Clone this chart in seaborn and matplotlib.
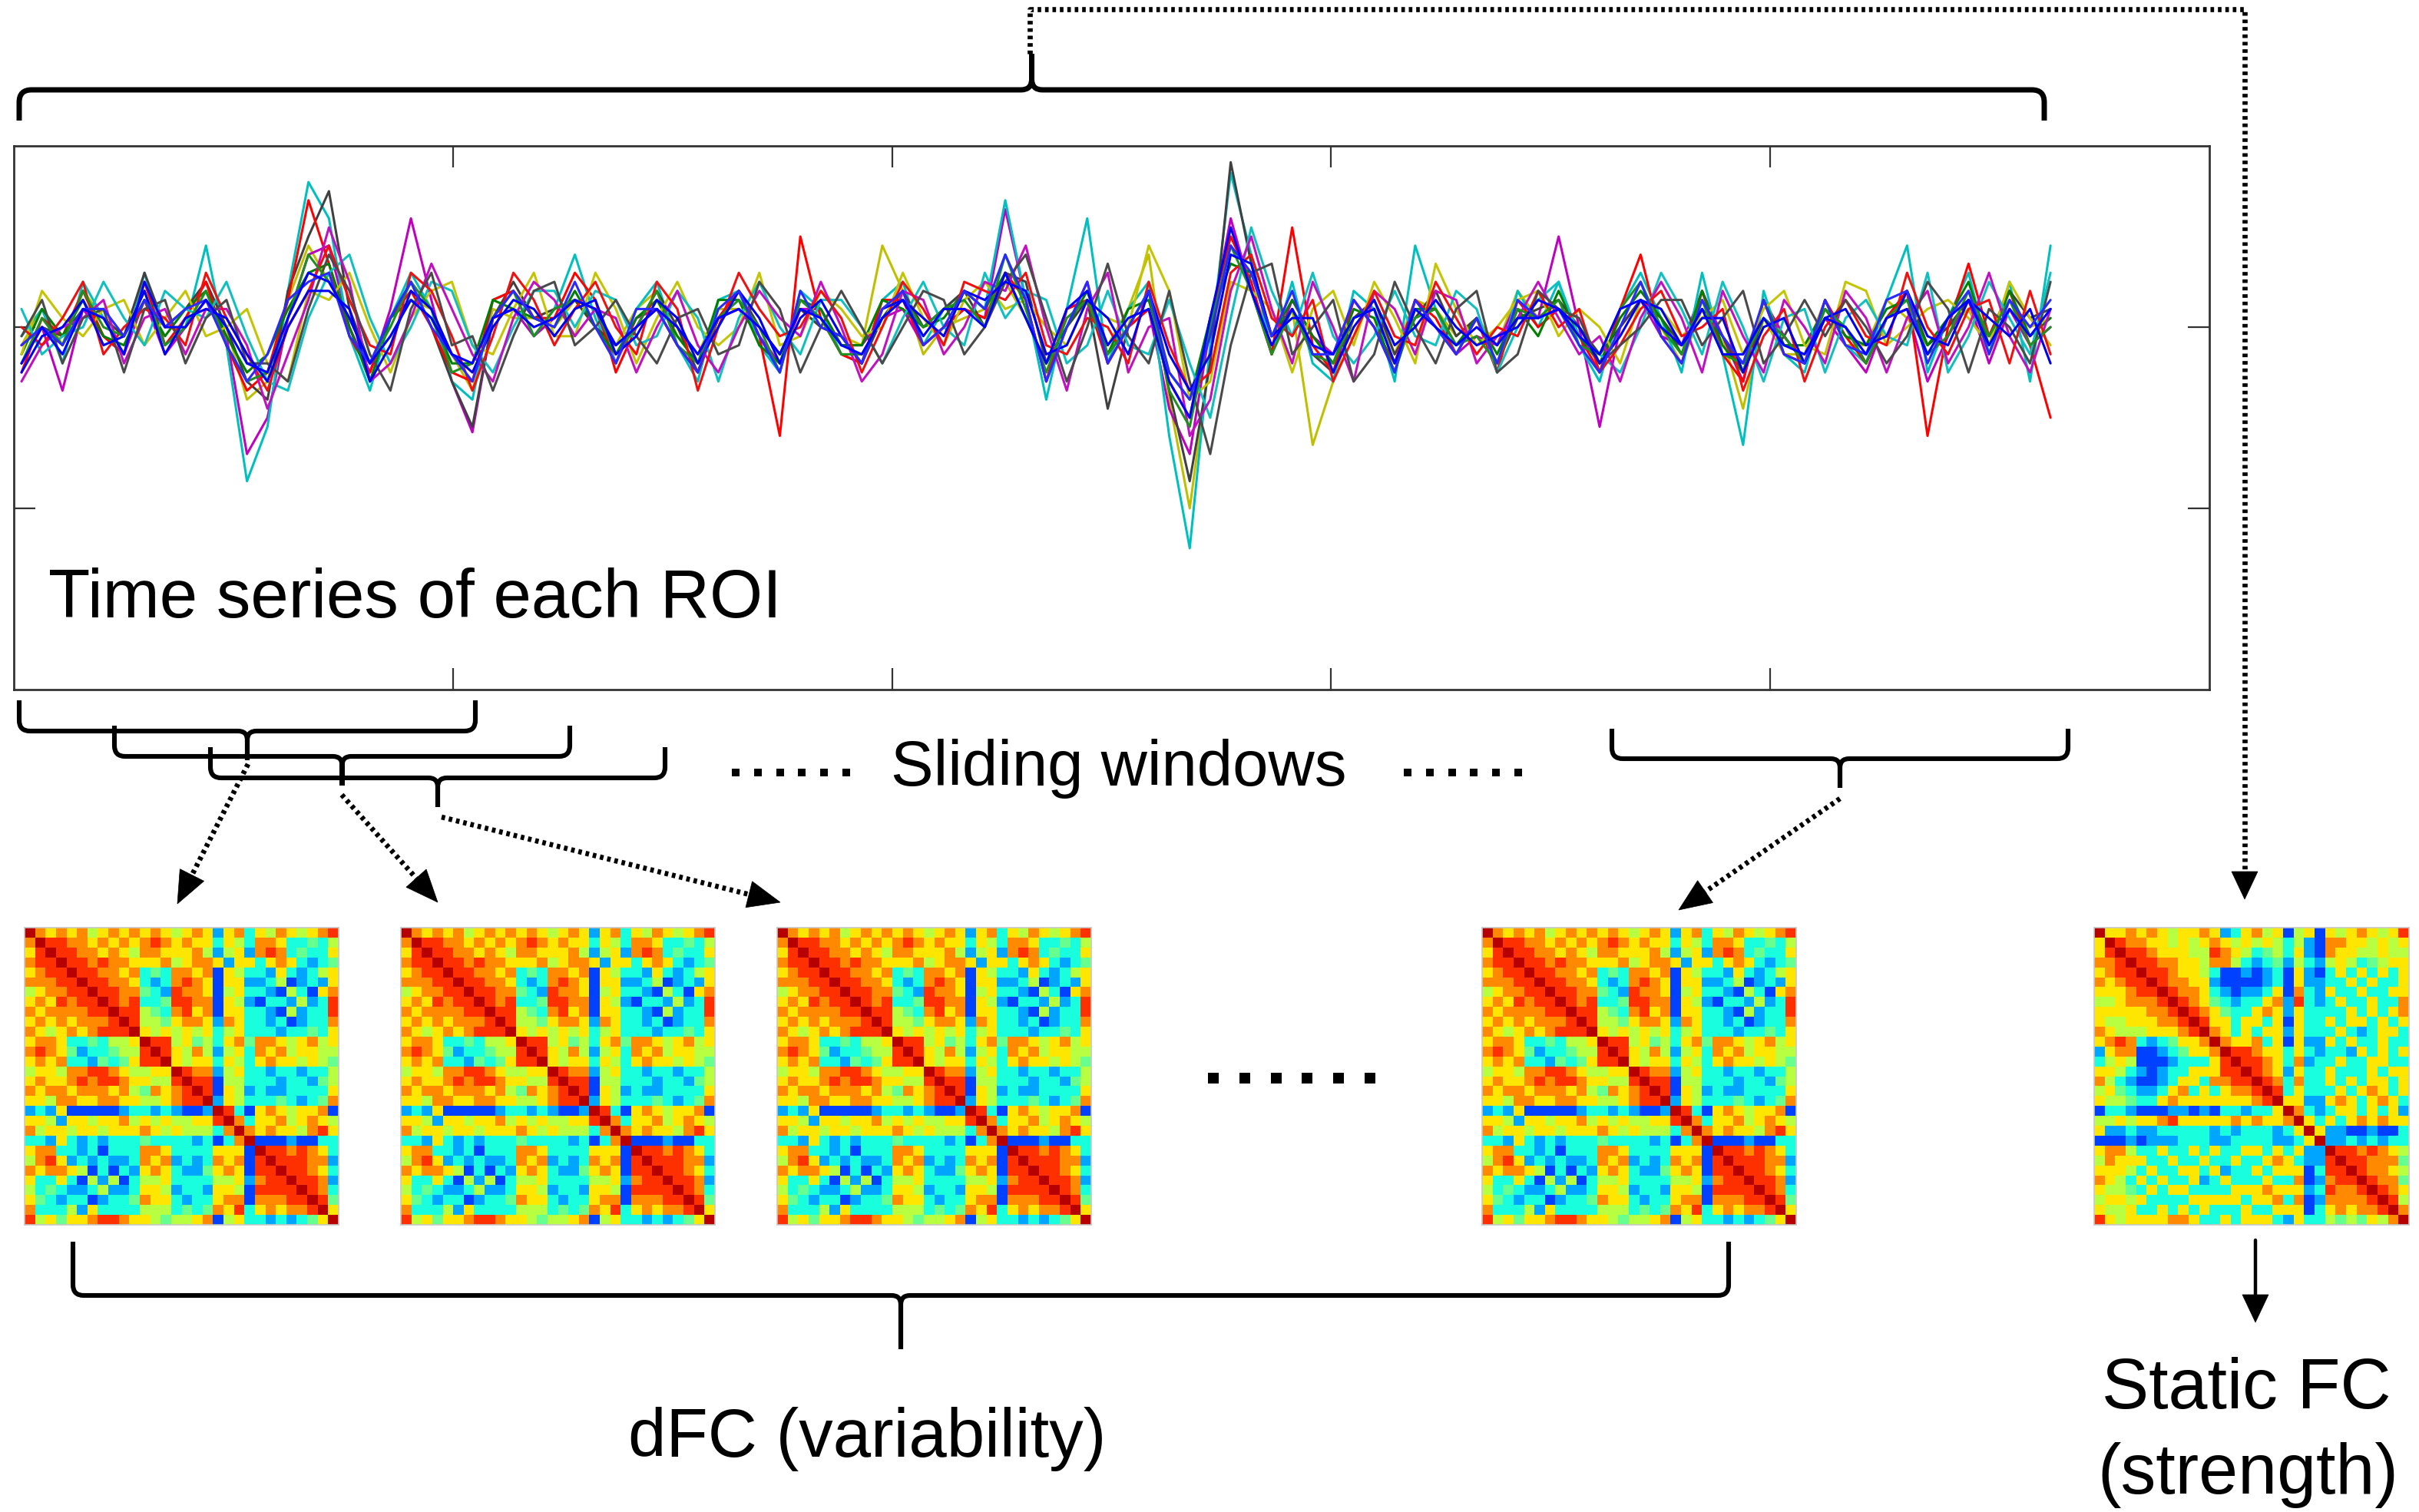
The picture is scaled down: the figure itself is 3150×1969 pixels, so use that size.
import numpy as np
import pandas as pd
import matplotlib
matplotlib.use("Agg")
import matplotlib.pyplot as plt
import seaborn as sns
from matplotlib.path import Path
from matplotlib.patches import PathPatch, Polygon

# ---------------- data ----------------
roi_names = ["ROI_y", "ROI_m", "ROI_c", "ROI_k", "ROI_r", "ROI_g", "ROI_y2", "ROI_c2",
             "ROI_m2", "ROI_r2", "ROI_k2", "ROI_g2", "ROI_b3", "ROI_b2", "ROI_b"]
roi_colors = ["#bfbf00", "#bf00bf", "#00bfbf", "#404040", "#ff0000", "#008000", "#c4c400",
              "#10c0c0", "#c010c0", "#f01010", "#4a4a4a", "#1f8f1f", "#0000ee", "#2a2aff", "#0000ff"]

# signal values in units of 0.01
ts_yellow = [-10, 10, -10, 20, 5, -5, 15, 0, 0, 15,
             0, -40, -30, 15, 45, 25, 5, -20, -5, 15,
             10, -15, -35, 10, 5, 5, 0, 15, 0, -10,
             10, 20, -5, -15, 10, 10, 0, -15, 10, 0,
             -5, -10, 45, 20, -15, 0, 5, 10, 25, 5,
             -20, 10, 15, -10, 10, 40, -40, -100, -15, 55,
             20, -5, 10, -65, -30, 5, 10, -15, 15, 10,
             -5, 5, -10, 20, 5, 10, 0, -15, 0, 15,
             0, -20, 10, -5, -45, 5, -15, -15, 15, -10,
             -10, 15, 5, -10, 0, 10, -15, 10, 0, 5]
ts_magenta = [-10, 0, -35, 10, -5, -15, 15, -15, 0, 15,
              -5, -70, -50, 5, 40, 45, 0, -25, 10, 60,
              15, -30, -58, 5, 10, -5, 5, 15, 10, -20,
              5, 10, -10, -25, 5, 10, -5, -20, 10, 10,
              -10, -10, 5, 10, -10, 0, 10, 5, 65, 15,
              -30, 0, 25, -20, 0, 10, -45, -70, 0, 60,
              20, -15, 15, -5, -15, 15, 0, -25, 15, 0,
              -15, -5, -10, 15, 5, 50, 0, -55, 0, 15,
              -5, -10, 20, -5, -30, 15, -5, -20, 5, -10,
              -25, 5, 10, -30, -5, 15, -20, 10, -10, 0]
ts_cyan = [-5, 10, -20, 25, 5, -15, 30, -10, 0, 45,
           -10, -85, -55, 20, 80, 60, -5, -35, 5, 30,
           10, -30, -40, 15, 20, -5, 10, 40, 5, -20,
           10, 25, -10, -30, 15, 20, -10, -25, 20, 10,
           -15, -20, 15, 25, -10, 10, 20, 10, 70, 15,
           -40, 10, 60, -20, 10, 25, -60, -122, -10, 85,
           40, -15, 25, -20, -30, 20, 10, -30, 45, 10,
           -15, 5, -25, 20, 0, 25, -10, -30, 10, 30,
           5, -25, 30, -15, -65, 20, -15, -25, 15, -10,
           -20, 15, 45, -25, 5, 30, -15, 25, -30, 45]
ts_gray = [-20, 0, -5, 10, 5, -5, 30, 0, 10, 25,
           0, -30, -40, 20, 50, 75, 10, -20, 5, 25,
           0, -30, -55, 5, 25, 5, 10, 15, 0, -10,
           0, 20, 0, -25, 5, 20, 0, -15, 10, 0,
           -5, -20, 5, 20, 0, 10, 20, 0, 30, 25,
           -20, 0, 15, -45, 0, 20, -35, -85, -20, 91,
           35, -5, 10, -15, -25, 5, 15, -15, 5, 20,
           -5, 5, -20, 5, 10, 15, 0, -15, 0, 15,
           5, -10, 10, -5, -25, 5, -5, -20, 5, 0,
           -20, 5, 20, -10, 0, 15, -5, 20, 5, 10]
ts_red = [-25, 5, -5, 20, -5, -15, 25, -10, 5, 25,
          -10, -35, -25, 15, 70, 35, -5, -25, 5, 20,
          0, -25, -30, 15, 20, 5, 5, 30, 15, -25,
          0, 10, -10, -25, 5, 20, -5, -60, 50, 5,
          -15, -20, 15, 15, -10, 0, 10, 5, 30, 15,
          -30, 10, 15, -20, 0, 10, -30, -50, 5, 50,
          25, -15, 55, -10, -25, 15, 0, -20, 15, 5,
          -15, 5, -25, 15, 0, 10, -5, -25, 10, 40,
          -5, -20, 20, -15, -30, 15, -15, -20, 15, -5,
          -20, 5, 20, -60, 0, 35, -5, 20, -10, -50]
ts_green = [-15, 10, -5, 15, -5, -10, 15, -5, 10, 20,
            -5, -25, -15, 10, 30, 35, 0, -30, 5, 15,
            5, -20, -20, 15, 10, 5, 0, 20, 0, -15,
            5, 15, -5, -20, 15, 15, -10, -20, 15, 10,
            -10, -10, 15, 10, 0, 5, 20, 10, 30, 5,
            -20, 0, 20, -15, 10, 15, -25, -40, 5, 35,
            30, -5, 15, -5, -20, 10, 5, -25, 10, 10,
            -10, 5, -15, 10, -5, 20, -5, -20, 5, 20,
            5, -15, 20, -10, -25, 15, -10, -10, 10, -5,
            -10, 10, 15, -10, 5, 25, -10, 20, -5, 5]
ts_yellow2 = [-15, 20, 5, -5, 10, 15, -10, 5, 20, -5,
              0, 10, -20, -30, 20, 15, 30, 0, -25, 5,
              20, 25, -10, -15, 10, 30, -5, -5, 30, 10,
              -20, 5, 25, 0, -10, 0, 30, -10, -5, 20,
              10, -5, 0, 30, 5, -10, 15, 25, 10, 15,
              0, -10, 15, 5, 0, 45, 20, -40, -30, 25,
              20, 10, -25, 10, 20, -10, 25, 5, -20, 35,
              10, -10, 0, 15, 20, -5, 10, 0, -20, 15,
              10, -5, 5, 15, -15, 10, 20, -10, -15, 25,
              20, -10, 0, 10, 15, 5, -10, 25, 5, -10]
ts_cyan2 = [10, -15, -5, 0, 25, 5, -10, 20, 10, 5,
            25, -5, -30, -35, 5, 30, 40, 5, -20, 0,
            25, 20, -10, -25, 0, 20, 20, 0, 20, 15,
            -10, -5, 20, 5, -30, 5, 25, 0, -15, 15,
            15, 0, -20, 5, 25, 0, -10, 30, 5, 20,
            15, -20, -10, 20, -10, -15, 15, -20, -50, 5,
            55, 20, -5, 30, -5, -20, -5, 20, -5, -10,
            20, 10, -25, 0, 15, 25, -5, -15, -25, 0,
            30, 10, -15, 25, 0, -30, 5, 10, -25, 5,
            15, -5, -10, 30, -25, -5, 25, 5, -15, 30]
ts_magenta2 = [-30, -10, 0, 5, 15, -20, 5, 10, -15, 10,
               10, -10, -45, -15, 15, 55, 25, -30, -20, 5,
               35, 10, -15, -30, 5, 25, 15, -5, 10, 5,
               -25, 0, 20, -10, -25, 0, 20, 5, -5, 25,
               0, -30, -15, 20, 15, -15, 0, 25, 20, 45,
               0, -35, 10, 30, -25, 0, 5, -60, -40, 20,
               50, 10, -20, 25, 0, -30, 20, 10, -15, 20,
               15, -20, -5, 5, 25, 5, -15, -5, -30, 5,
               25, 5, -25, 20, -5, -25, 15, 0, -20, 20,
               5, -25, 5, 20, -20, 0, 30, -5, -25, 10]
ts_red2 = [0, -10, 5, 25, -15, 0, 10, 5, -10, 30,
           5, -15, -35, 0, 20, 45, 15, -10, -15, 30,
           20, -5, -35, -5, 30, 15, -10, 10, 25, 0,
           -15, 25, 10, -35, 0, 30, 10, -5, 0, 20,
           5, -25, 0, 25, 10, -10, 25, 20, 15, 30,
           -10, -15, 5, 0, -20, 25, -10, -35, -25, 30,
           40, 5, -5, 15, -30, -5, 20, -5, -10, 25,
           5, -15, 0, -5, 20, 0, 10, -25, -10, 10,
           20, -5, 0, 10, -35, -5, 10, -30, 0, 15,
           -5, -10, 30, 0, -15, 10, 15, -20, 20, -15]
ts_gray2 = [-5, 15, -20, 5, 10, -25, 10, 15, -20, 5,
            15, -20, -20, -30, 10, 40, 20, -15, -35, 10,
            30, -10, -5, -35, -5, 20, 25, -10, 0, 15,
            -5, -20, 5, 10, -15, -10, 25, 10, -25, 0,
            20, 0, -20, 0, 20, 15, -15, 0, 25, 40,
            5, -30, 0, 35, -5, -20, 20, -30, -70, -10,
            30, 35, -15, 0, 15, -30, -15, 25, 0, -20,
            10, 20, -25, -15, 20, 10, 5, -20, -10, 0,
            15, 15, -10, 5, 20, -20, -5, 15, -5, 15,
            0, -20, -5, 25, 10, -25, 10, 0, -20, 25]
ts_green2 = [-20, 5, -10, 20, 0, -5, 20, -10, 0, 20,
             -10, -30, -25, 5, 40, 25, 5, -20, 0, 25,
             10, -25, -20, 5, 20, -5, 10, 15, 10, -15,
             0, 20, -10, -20, 5, 15, 0, -25, 15, 5,
             -15, -15, 5, 15, 0, 10, 15, 0, 40, 10,
             -25, 5, 15, -15, 0, 20, -35, -55, 0, 45,
             20, -15, 10, -15, -20, 5, 10, -20, 5, 10,
             -10, -5, -20, 10, 5, 15, -10, -15, 10, 25,
             0, -15, 15, -15, -20, 5, -5, -20, 10, 0,
             -20, 5, 15, -15, -5, 20, -5, 15, -10, 0]
ts_blue3 = [-25, -5, 0, 15, -10, -5, 20, -15, 5, 10,
            5, -15, -30, 0, 20, 20, 10, -30, -10, 20,
            10, -15, -25, 0, 15, 10, -5, 10, 15, -15,
            -5, 15, 5, -20, 0, 20, 5, -20, 5, 15,
            -5, -20, 10, 15, 5, -5, 20, 15, 25, 20,
            -15, -10, 15, 5, -15, 20, -15, -35, -15, 40,
            35, -5, 5, 5, -25, 0, 15, -10, 0, 15,
            0, -10, -5, 0, 15, 10, 0, -20, -5, 15,
            10, -10, 5, 5, -25, 0, 5, -20, 5, 10,
            -10, -5, 20, -5, -10, 15, 5, -5, 10, -20]
ts_blue2 = [-10, 0, -10, 10, 10, -5, 15, 0, 10, 15,
            -10, -30, -15, 15, 25, 30, -5, -20, 5, 25,
            0, -15, -30, 5, 20, 5, 0, 25, 0, -20,
            10, 10, -10, -25, 10, 20, -5, -25, 20, 0,
            -5, -20, 10, 20, -10, 0, 20, 10, 40, 15,
            -30, 0, 25, -20, 0, 20, -25, -40, -5, 45,
            30, -5, 20, -15, -15, 15, 0, -25, 15, 0,
            -15, 5, -20, 15, 5, 10, -10, -25, 0, 25,
            -5, -20, 15, -5, -20, 15, -15, -20, 15, -10,
            -15, 15, 20, -20, 5, 20, -15, 15, 0, 15]
ts_blue = [-20, 0, -15, 10, 5, -15, 25, 0, 0, 15,
           0, -20, -25, 5, 30, 25, 5, -20, -5, 15,
           5, -15, -20, 5, 10, 0, 5, 15, 10, -10,
           0, 10, 0, -15, 5, 10, 0, -15, 10, 5,
           -10, -15, 5, 15, -5, 10, 10, 0, 30, 5,
           -20, 10, 20, -10, 5, 10, -30, -50, 5, 55,
           20, -10, 10, -10, -15, 5, 10, -20, 10, 0,
           -10, 0, -10, 5, 5, 10, -5, -15, 10, 15,
           0, -10, 10, -15, -15, 5, -10, -15, 5, 0,
           -15, 5, 10, -15, 5, 15, -10, 10, -5, 10]
roi_series = [ts_yellow, ts_magenta, ts_cyan, ts_gray, ts_red, ts_green, ts_yellow2,
              ts_cyan2, ts_magenta2, ts_red2, ts_gray2, ts_green2, ts_blue3, ts_blue2, ts_blue]

# correlation matrices: upper triangle, row i starts at the diagonal (digit level 0..9)
dfc_rows = [
    "976767567676765676267365765678",
    "98877676767876766365377633435",
    "9887767657766675256278734336",
    "988787766675677626636763234 5".replace(" ", ""),
    "98877673437767165332632356",
    "9887763237876166223512326",
    "988774328776156332153167",
    "98783348877165213325238",
    "9885437867166332152338",
    "985546776276332312337",
    "96565656356333233436",
    "9885645367477656756",
    "986575256376756655",
    "96566365367665654",
    "9877256332332335",
    "988155333233245",
    "98165232233336",
    "9265333432347",
    "983167656671",
    "97366756765",
    "9767665786",
    "911121133",
    "98878763",
    "9888772",
    "988763",
    "98872",
    "9873",
    "984",
    "96",
    "9",
]
static_rows = [
    "966767656676236756156165676568",
    "98776656567656565352177665656",
    "9887666558765345362176655655",
    "988776657753234253256534566",
    "98876653112123162136363636",
    "9877662111123162233636336",
    "987763212236173263363366",
    "98764323367283236336337",
    "9876433676263333636367",
    "986636636163363663636",
    "97636366263336323663",
    "9766736162263633633",
    "988766363233263636",
    "98876372336336633",
    "9876263363336366",
    "987373363636636",
    "98363336367636",
    "9662267636763",
    "973236636362",
    "96363676766",
    "9622112113",
    "922323233",
    "98878765",
    "9887774",
    "987765",
    "98774",
    "9876",
    "985",
    "97",
    "9",
]


def sym_matrix(rows):
    n = len(rows)
    m = np.zeros((n, n))
    for i, s in enumerate(rows):
        s = (s + "5" * n)[: n - i]
        for k, ch in enumerate(s):
            m[i, i + k] = m[i + k, i] = int(ch)
    return m


dfc_matrix = sym_matrix(dfc_rows)
static_matrix = sym_matrix(static_rows)

# ---------------- figure ----------------
sns.set_theme(style="white")
plt.rcParams["font.family"] = ["Liberation Sans", "DejaVu Sans"]
plt.rcParams["text.color"] = "black"

W, H = 3150, 1969
fig = plt.figure(figsize=(W / 100, H / 100), dpi=100)
fig.patch.set_facecolor("white")


def px_axes(x0, y0, x1, y1):
    return fig.add_axes([x0 / W, 1 - y1 / H, (x1 - x0) / W, (y1 - y0) / H])


# time series panel
ax = px_axes(18, 190, 2877, 898)
frames = []
for name, vals in zip(roi_names, roi_series):
    frames.append(pd.DataFrame({"t": np.arange(len(vals)),
                                "value": np.array(vals) / 100.0,
                                "roi": name}))
df = pd.concat(frames, ignore_index=True)
sns.lineplot(data=df, x="t", y="value", hue="roi", hue_order=roi_names,
             palette=dict(zip(roi_names, roi_colors)), estimator=None,
             sort=False, legend=False, linewidth=2.2, ax=ax)
ax.set_xlim(-0.375, 106.75)
ax.set_ylim(-2, 1)
xl = ax.get_xlim()
ax.set_xticks(np.linspace(xl[0], xl[1], 6)[1:-1])
ax.set_yticks([-1, 0])
ax.tick_params(direction="in", length=20, width=1.6, color="#333333",
               top=True, right=True, bottom=True, left=True,
               labelbottom=False, labelleft=False)
ax.set_xlabel("")
ax.set_ylabel("")
for sp in ax.spines.values():
    sp.set_visible(True)
    sp.set_color("#333333")
    sp.set_linewidth(2.0)

# connectivity matrices
hm_x0 = [32, 522, 1012, 1930]
for x0 in hm_x0:
    hax = px_axes(x0, 1208, x0 + 409, 1595)
    sns.heatmap(dfc_matrix, ax=hax, cmap="jet", vmin=-1, vmax=9.5, cbar=False,
                xticklabels=False, yticklabels=False)
    for sp in hax.spines.values():
        sp.set_visible(True)
        sp.set_color("#c8c8c8")
        sp.set_linewidth(1.2)
sax = px_axes(2727, 1208, 3137, 1595)
sns.heatmap(static_matrix, ax=sax, cmap="jet", vmin=-1, vmax=9.5, cbar=False,
            xticklabels=False, yticklabels=False)
for sp in sax.spines.values():
    sp.set_visible(True)
    sp.set_color("#c8c8c8")
    sp.set_linewidth(1.2)

# overlay for annotations in pixel coordinates
ov = fig.add_axes([0, 0, 1, 1])
ov.set_xlim(0, W)
ov.set_ylim(H, 0)
ov.axis("off")
ov.set_zorder(10)


def brace(x0, x1, y_bar, y_end, y_tip, r=14, rt=12, lw=4.4):
    xc = (x0 + x1) / 2
    s = np.sign(y_end - y_bar)
    t = np.sign(y_tip - y_bar)
    M, L, C = Path.MOVETO, Path.LINETO, Path.CURVE3
    verts, codes = [], []
    for xe, d in ((x0, 1), (x1, -1)):
        verts += [(xe, y_end), (xe, y_bar + s * r), (xe, y_bar), (xe + d * r, y_bar),
                  (xc - d * rt, y_bar), (xc, y_bar), (xc, y_bar + t * rt), (xc, y_tip)]
        codes += [M, L, C, C, L, C, C, L]
    ov.add_patch(PathPatch(Path(verts, codes), fill=False, lw=lw, ec="black",
                           capstyle="butt", joinstyle="round"))


def head(p_from, tip, length=42, width=35):
    p_from = np.array(p_from, float)
    tip = np.array(tip, float)
    u = (tip - p_from) / np.linalg.norm(tip - p_from)
    n = np.array([-u[1], u[0]])
    base = tip - length * u
    ov.add_patch(Polygon([tip, base + width / 2 * n, base - width / 2 * n],
                         closed=True, fc="black", ec="black", lw=0.5))
    return base


def dotted(xs, ys, lw=4.8):
    ov.plot(xs, ys, color="black", lw=lw, linestyle=(0, (0.7, 0.75)),
            dash_capstyle="butt", solid_joinstyle="miter")


def dotted_arrow(p_from, tip):
    base = head(p_from, tip)
    dotted([p_from[0], base[0]], [p_from[1], base[1]])


# top brace over the whole scan and dotted route to static FC
brace(25, 2662, 117, 157, 70, r=16, rt=14, lw=5.0)
dotted([1341, 1341, 2923, 2923], [70, 12, 12, 1134])
head((2923, 1000), (2923, 1171), length=36, width=34)

# sliding-window braces
brace(25, 619, 952, 912, 990)
brace(149, 742, 985, 945, 1023)
brace(274, 866, 1013, 973, 1051)
brace(2099, 2693, 988, 949, 1026)

dotted_arrow((323, 995), (231, 1177))
dotted_arrow((445, 1035), (570, 1175))
dotted_arrow((575, 1064), (1016, 1175))
dotted_arrow((2396, 1040), (2186, 1185))

# dotted ellipses
ov.scatter(np.linspace(958, 1102, 6), [1006] * 6, marker="s", s=60, c="black", lw=0)
ov.scatter(np.linspace(1833, 1977, 6), [1006] * 6, marker="s", s=60, c="black", lw=0)
ov.scatter(np.linspace(1580, 1784, 6), [1404] * 6, marker="s", s=90, c="black", lw=0)

# dFC brace
brace(95, 2251, 1687, 1617, 1757, r=14, rt=12, lw=4.4)

# static FC arrow
base = head((2937, 1615), (2937, 1722), length=36, width=34)
ov.plot([2937, 2937], [1615, base[1]], color="black", lw=3.2)

# texts
ov.text(63, 804, "Time series of each ROI", fontsize=64, ha="left", va="baseline", color="black")
ov.text(1457, 1023, "Sliding windows", fontsize=60, ha="center", va="baseline", color="black")
ov.text(1129, 1897, "dFC (variability)", fontsize=64, ha="center", va="baseline", color="black")
ov.text(2925, 1834, "Static FC", fontsize=66, ha="center", va="baseline", color="black")
ov.text(2927, 1945, "(strength)", fontsize=66, ha="center", va="baseline", color="black")

fig.savefig("out.png", dpi=100, facecolor="white")
